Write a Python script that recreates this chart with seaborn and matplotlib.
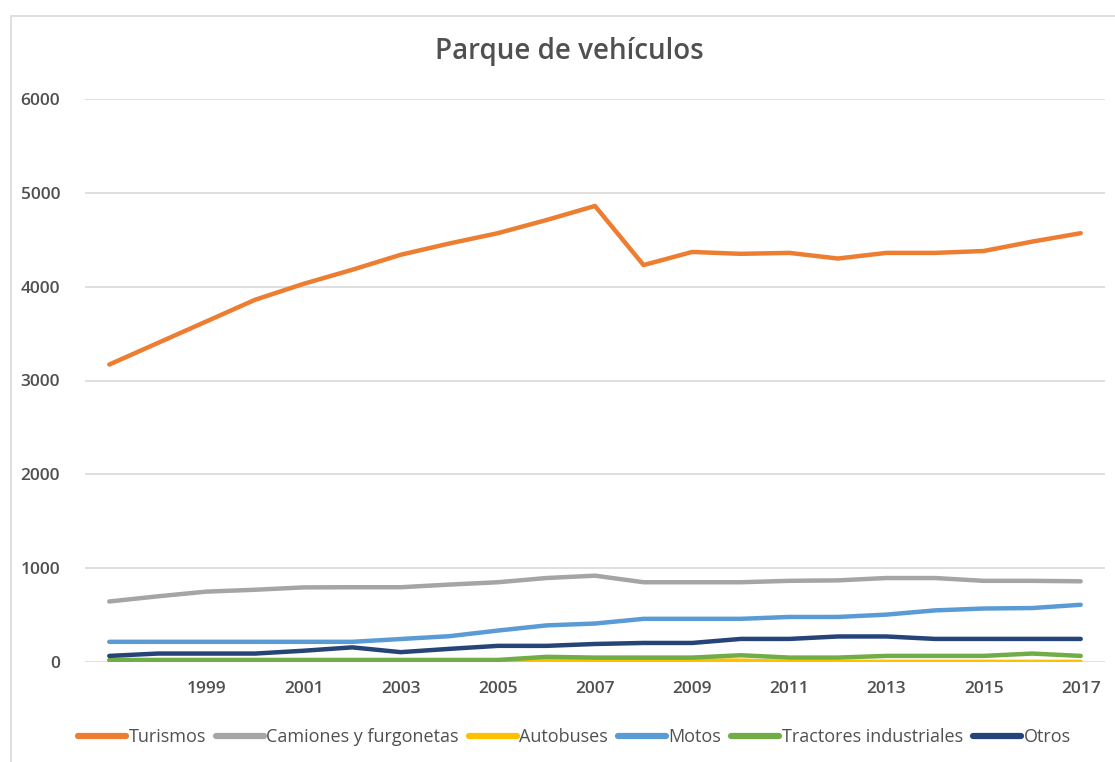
import matplotlib
matplotlib.use("Agg")
import matplotlib.pyplot as plt
from matplotlib.lines import Line2D
import seaborn as sns
import pandas as pd

years = list(range(1997, 2018))

turismos = [3170, 3400, 3630, 3860, 4030, 4180, 4340, 4460, 4570, 4710, 4860,
            4230, 4370, 4350, 4360, 4300, 4360, 4360, 4380, 4480, 4570]
camiones = [645, 700, 750, 770, 795, 797, 797, 825, 850, 895, 920,
            850, 850, 850, 865, 870, 895, 895, 865, 865, 860]
autobuses = [8, 8, 8, 8, 8, 8, 8, 8, 8, 15, 15,
             15, 15, 15, 2, 2, 2, 2, 2, 2, 2]
motos = [215, 215, 215, 215, 215, 215, 245, 275, 335, 390, 410,
         460, 460, 460, 480, 480, 505, 550, 570, 575, 610]
tractores = [22, 22, 22, 22, 22, 22, 22, 22, 22, 55, 47,
             47, 47, 72, 47, 47, 65, 65, 65, 90, 65]
otros = [65, 90, 90, 90, 120, 156, 105, 140, 172, 172, 192,
         203, 203, 246, 246, 272, 272, 246, 246, 246, 246]

series_names = ["Turismos", "Camiones y furgonetas", "Autobuses", "Motos",
                "Tractores industriales", "Otros"]
series_values = [turismos, camiones, autobuses, motos, tractores, otros]
series_colors = ["#ED7D31", "#A5A5A5", "#FFC000", "#5B9BD5", "#70AD47", "#264478"]

title = "Parque de vehículos"
y_ticks = [0, 1000, 2000, 3000, 4000, 5000, 6000]
x_ticks = list(range(1999, 2018, 2))

rows = []
for name, vals in zip(series_names, series_values):
    for yr, v in zip(years, vals):
        rows.append({"Año": yr, "Vehículos": v, "Tipo": name})
df = pd.DataFrame(rows)

sns.set_theme(style="white")
plt.rcParams["font.family"] = ["Open Sans", "DejaVu Sans"]
text_color = "#505050"
grid_color = "#D9D9D9"

fig = plt.figure(figsize=(11.15, 7.62), dpi=100)
ax = fig.add_axes([85 / 1115, 1 - 662 / 762, 1020 / 1115, 563 / 762])

sns.lineplot(data=df, x="Año", y="Vehículos", hue="Tipo", hue_order=series_names,
             palette=dict(zip(series_names, series_colors)), linewidth=3.2,
             ax=ax, legend=False, solid_capstyle="round", solid_joinstyle="round",
             zorder=3)

ax.set_xlim(1996.5, 2017.5)
ax.set_ylim(0, 6000)
ax.set_yticks(y_ticks)
ax.set_xticks(x_ticks)
ax.set_xticklabels([str(t) for t in x_ticks])
ax.set_xlabel("")
ax.set_ylabel("")
ax.yaxis.grid(True, color=grid_color, linewidth=1.2)
ax.xaxis.grid(False)
ax.set_axisbelow(True)
for s in ax.spines.values():
    s.set_visible(False)
ax.tick_params(axis="both", length=0, labelsize=12.5, labelcolor=text_color)
ax.tick_params(axis="y", pad=18)
ax.tick_params(axis="x", pad=14)
for lab in ax.get_xticklabels() + ax.get_yticklabels():
    lab.set_fontweight("semibold")

fig.text(0.511, 0.933, title, ha="center", va="center", fontsize=20,
         color=text_color, fontweight="semibold")

handles = [Line2D([0], [0], color=c, linewidth=4.5, solid_capstyle="round")
           for c in series_colors]
fig.legend(handles, series_names, loc="center", bbox_to_anchor=(0.515, 0.033),
           ncol=6, frameon=False, fontsize=13, handlelength=2.65,
           handletextpad=0.15, columnspacing=0.55, labelcolor=text_color)

# outer chart frame (top and left edges)
fig.add_artist(Line2D([10.5 / 1115, 10.5 / 1115], [0, 1 - 15.5 / 762],
                      color=grid_color, linewidth=1.2, transform=fig.transFigure))
fig.add_artist(Line2D([10.5 / 1115, 1], [1 - 15.5 / 762, 1 - 15.5 / 762],
                      color=grid_color, linewidth=1.2, transform=fig.transFigure))

fig.savefig("out.png", dpi=100, facecolor="white")
